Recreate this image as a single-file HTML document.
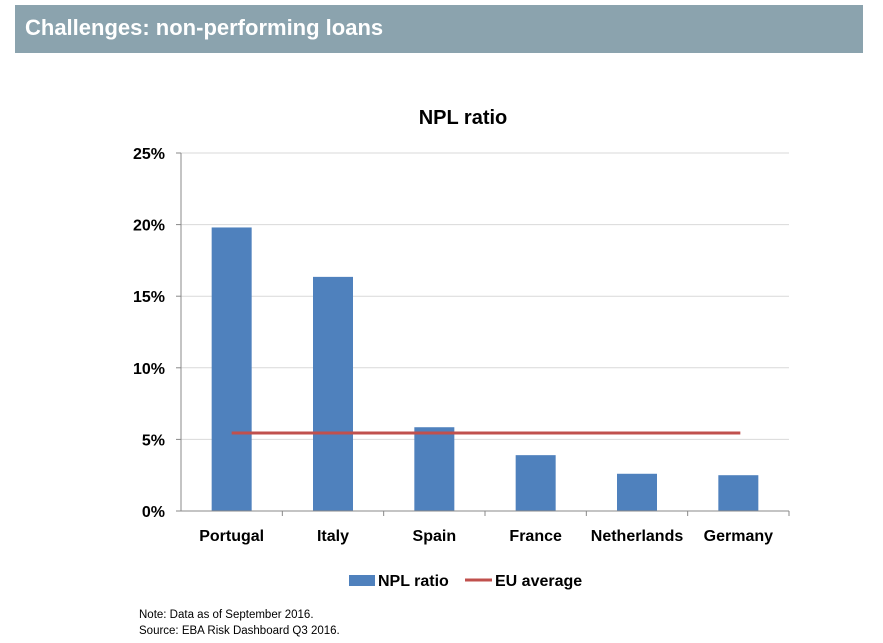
<!DOCTYPE html>
<html><head><meta charset="utf-8"><style>
body{margin:0;width:883px;height:643px;background:#fff;font-family:"Liberation Sans",sans-serif;overflow:hidden;position:relative}
.hdr{position:absolute;left:15px;top:5px;width:848px;height:48px;background:#8ba3ae;color:#fff;font-weight:bold;font-size:22px;line-height:46px;padding-left:10px;box-sizing:border-box}
.note{position:absolute;left:139px;font-size:11.5px;color:#000}
</style></head><body>
<div class="hdr">Challenges: non-performing loans</div>
<svg id="chart" width="883" height="643" style="position:absolute;left:0;top:0"></svg>
<div class="note" style="top:609px">Note: Data as of September 2016.</div>
<div class="note" style="top:625px">Source: EBA Risk Dashboard Q3 2016.</div>
<script>
const categories=["Portugal","Italy","Spain","France","Netherlands","Germany"];
const nplValues=[19.8,16.35,5.85,3.9,2.6,2.5];
const euAverage=5.45;
const yTicks=[0,5,10,15,20,25];
const tickLabels=["0%","5%","10%","15%","20%","25%"];
const svg=document.getElementById('chart');const NS="http://www.w3.org/2000/svg";
const x0=181,x1=789,y0=511,y1=153,yMax=25;
const y=v=>y0-(v/yMax)*(y0-y1);
const band=(x1-x0)/categories.length;
const xc=i=>x0+band*(i+0.5);
function mk(t,a,txt){const e=document.createElementNS(NS,t);for(const k in a)e.setAttribute(k,a[k]);if(txt!=null)e.textContent=txt;svg.appendChild(e);return e;}
let e=mk('text',{x:463,y:124,'text-anchor':'middle','font-size':20,'font-weight':'bold'},'NPL ratio');


yTicks.forEach((t,i)=>{
 if(t>0){const g=mk('line',{x1:x0,x2:x1,y1:y(t),y2:y(t),stroke:'#d9d9d9','stroke-width':1});
 
 }
 const tk=mk('line',{x1:x0-5,x2:x0,y1:y(t),y2:y(t),stroke:'#888'});
 
 
 const l=mk('text',{x:165,y:y(t)+6,'text-anchor':'end','font-size':16,'font-weight':'bold'},tickLabels[i]);
 
 
});
categories.forEach((c,i)=>{
 const b=mk('rect',{x:xc(i)-20,y:y(nplValues[i]),width:40,height:y0-y(nplValues[i]),fill:'#4f81bd'});
 
 
 const t=mk('line',{x1:x0+band*(i+1),x2:x0+band*(i+1),y1:y0,y2:y0+5,stroke:'#888'});
 
 
 const l=mk('text',{x:xc(i),y:541,'text-anchor':'middle','font-size':16,'font-weight':'bold'},c);
 
 
});
let ax=mk('line',{x1:x0,x2:x0,y1:y1,y2:y0,stroke:'#888'});


ax=mk('line',{x1:x0,x2:x1,y1:y0,y2:y0,stroke:'#888'});


const eu=mk('line',{x1:xc(0),x2:xc(categories.length-1)+2,y1:y(euAverage),y2:y(euAverage),stroke:'#c0504d','stroke-width':3});


let le=mk('rect',{x:349,y:575,width:26,height:11,fill:'#4f81bd'});


le=mk('text',{x:378,y:586,'font-size':16,'font-weight':'bold'},'NPL ratio');


le=mk('line',{x1:465,x2:492,y1:580,y2:580,stroke:'#c0504d','stroke-width':3});


le=mk('text',{x:495,y:586,'font-size':16,'font-weight':'bold'},'EU average');


</script>
</body></html>
